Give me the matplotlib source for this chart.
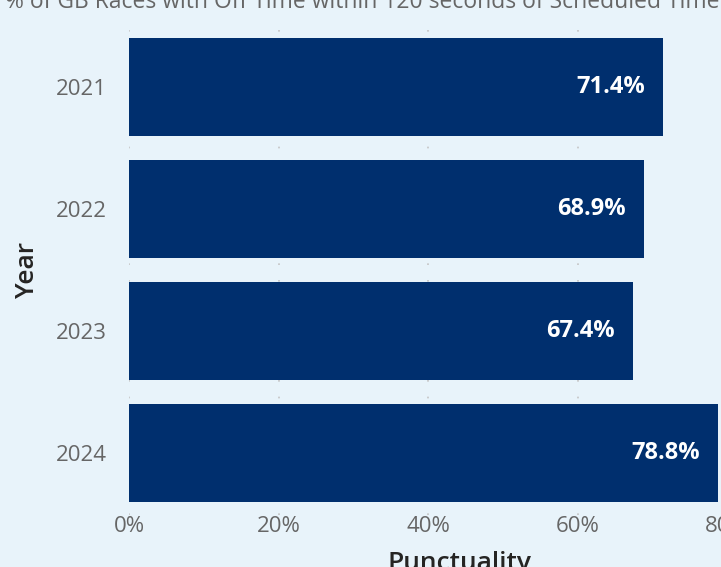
import matplotlib.pyplot as plt
from matplotlib import ticker

# data
years = ['2021', '2022', '2023', '2024']
punctuality = [71.4, 68.9, 67.4, 78.8]
labels = ['71.4%', '68.9%', '67.4%', '78.8%']
x_ticks = [0, 20, 40, 60, 80]

plt.rcParams['font.family'] = ['Open Sans', 'DejaVu Sans']
bg = '#e8f3fa'
bar_color = '#002f6e'

fig = plt.figure(figsize=(7.21, 5.67), dpi=100, facecolor=bg)
# axes extends past the right edge (the reference is cropped)
ax = fig.add_axes([129 / 721, 52.5 / 567, 598 / 721, 489 / 567], facecolor=bg)

pos = list(range(len(years)))
ax.barh(pos, punctuality, height=0.8, color=bar_color, zorder=2)
for p, v, lab in zip(pos, punctuality, labels):
    ax.text(v - 2.4, p, lab, ha='right', va='center', color='white',
            fontsize=17, fontweight='bold', zorder=3)

ax.set_ylim(3.5, -0.5)
ax.set_xlim(0, 80)
ax.set_yticks(pos)
ax.set_yticklabels(years)
ax.set_xticks(x_ticks)
ax.xaxis.set_major_formatter(ticker.FuncFormatter(lambda v, _: f'{v:.0f}%'))
ax.tick_params(axis='both', length=0, labelsize=16, labelcolor='#666666')
ax.tick_params(axis='y', pad=16)
ax.tick_params(axis='x', pad=1)

ax.grid(axis='x', linestyle=(0, (1, 9)), color='#c4c4c4', linewidth=1.2, zorder=1)
for s in ax.spines.values():
    s.set_visible(False)

ax.set_ylabel('Year', fontsize=19, color='#252423', fontweight='semibold')
ax.set_xlabel('Punctuality', fontsize=19, color='#252423', fontweight='semibold')
ax.yaxis.set_label_coords(-89 / 598, 0.5)
ax.xaxis.set_label_coords(331 / 598, -36 / 489)

fig.text(362 / 721, 1.0 - 7.5 / 567,
         '% of GB Races with Off Time within 120 seconds of Scheduled Time',
         ha='center', va='baseline', fontsize=16.5, color='#666666')

plt.savefig('out.png', dpi=100, facecolor=bg)
